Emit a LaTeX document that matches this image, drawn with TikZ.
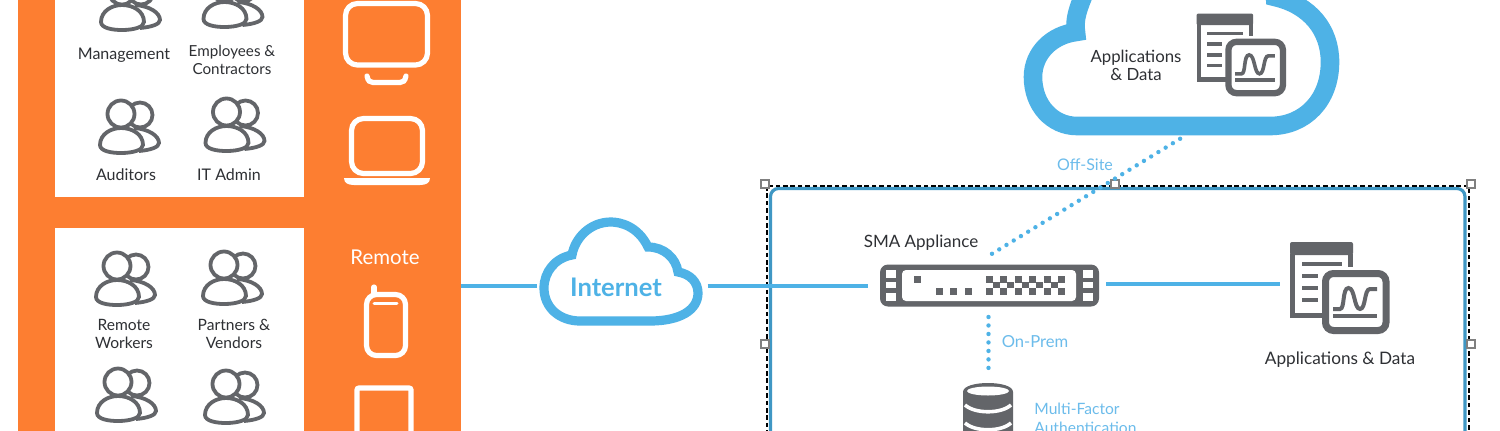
\documentclass[tikz,border=0pt]{standalone}
\usepackage{fontspec}
\setmainfont{Lato}
\definecolor{brandorange}{HTML}{FD7E31}
\definecolor{brandblue}{HTML}{4EB2E6}
\definecolor{softblue}{HTML}{6CBCEB}
\definecolor{frameblue}{HTML}{3F97C4}
\definecolor{icongray}{HTML}{636569}
\definecolor{labelgray}{HTML}{2E3034}
\tikzset{
  people/.pic={
    \draw[icongray,line width=1.9pt,fill=white] (13,14) .. controls (28,15) and (38,22) .. (38,29) .. controls (38,33) and (30,36) .. (18,37);
    \draw[icongray,line width=1.9pt,fill=white] (19,1) circle (12.5);
    \draw[icongray,line width=1.9pt,fill=white] (-21,31) .. controls (-21,20) and (-10,14) .. (0,14) .. controls (11,14) and (22,20) .. (22,31) .. controls (22,36) and (12,39) .. (0,39) .. controls (-10,39) and (-21,37) .. (-21,31) -- cycle;
    \draw[icongray,line width=1.9pt,fill=white] (0,0) circle (13.5);
  },
  pics/docs/.style={code={
    \begin{scope}[scale=#1]
      \fill[icongray,rounded corners=1pt] (0,0) rectangle (63,13);
      \draw[icongray,line width=#1*2.5pt] (2.5,12) -- (2.5,73.5) -- (35,73.5);
      \draw[icongray,line width=#1*2.5pt] (60.5,12) -- (60.5,25);
      \draw[icongray,line width=#1*1.8pt] (12,22) -- (52,22);
      \foreach \rowy in {34,46,58}{\draw[icongray,line width=#1*1.8pt] (12,\rowy) -- (28,\rowy);}
      \draw[icongray,fill=white,line width=#1*3.5pt,rounded corners=4pt] (35.5,31.5) rectangle (96,88.5);
      \draw[icongray,line width=#1*2pt] (43,67) -- (50,67) .. controls (55,67) and (52,46) .. (58.5,46) .. controls (65,46) and (64,67) .. (70,67) .. controls (76,67) and (74,47) .. (80,47) -- (87,47);
      \draw[icongray,line width=#1*2pt] (43,74) -- (87,74);
    \end{scope}
  }},
  label/.style={text=labelgray,font=\fontsize{8}{8.6}\selectfont,align=center,inner sep=0pt},
  whitelabel/.style={label,text=white,font=\fontsize{10.2}{11}\selectfont},
  bluelabel/.style={label,text=softblue},
  link/.style={brandblue,line width=2.4pt},
  dotlink/.style={brandblue,line width=2.2pt,line cap=round,dash pattern=on 0pt off 4.24pt},
  cloudline/.style={brandblue,line join=miter},
  device/.style={white,line width=2.6pt,rounded corners=3pt},
  handle/.style={draw=gray,fill=white,line width=.6pt,minimum size=4pt,inner sep=0pt},
  anchorbox/.style={inner sep=0pt,outer sep=0pt,minimum height=2pt}
}
\begin{document}
\begin{tikzpicture}[x=.5pt,y=-.5pt]
    \useasboundingbox (0,0) rectangle (1500,430);
    \clip (0,0) rectangle (1500,430);
    \fill[white] (0,0) rectangle (1500,430);
    \draw (239.5,190) node[fill=brandorange,minimum width=221.5pt,minimum height=270pt,inner sep=0pt,outer sep=0pt](panel){};
    \fill[white] (55,-20) rectangle (304,197);
    \fill[white] (55,228) rectangle (304,450);
    \draw (122,-9) pic{people};
    \draw (224.5,-12) pic{people};
    \draw (121,114) pic{people};
    \draw (226.5,112) pic{people};
    \draw (117,266) pic{people};
    \draw (224,265) pic{people};
    \draw (118,382) pic{people};
    \draw (226,384) pic{people};
    \draw (124,55) node[label](mgmt){Management};
    \draw (232,60) node[label,font=\fontsize{7.6}{8.6}\selectfont](staff){Employees \&\\Contractors};
    \draw (126,175) node[label](auditors){Auditors};
    \draw (229,175) node[label](itadmin){IT Admin};
    \draw (124,334) node[label,font=\fontsize{7.8}{8.6}\selectfont](remoteworkers){Remote\\Workers};
    \draw (234,334) node[label,font=\fontsize{7.8}{8.6}\selectfont](partners){Partners \&\\Vendors};
    \draw (385,257) node[whitelabel](remote){Remote};
    \draw[device,rounded corners=6pt] (345.5,3.5) rectangle (427.5,65);
    \draw[white,line width=2.6pt,line cap=round] (367,76) .. controls (368,81) and (370,82.5) .. (373,82.5) -- (400,82.5) .. controls (403,82.5) and (405,81) .. (406,76);
    \draw[device,rounded corners=6pt] (351.5,118.5) rectangle (422.5,173.5);
    \fill[white] (344,178) -- (430,178) .. controls (430,183) and (426,185) .. (420,185) -- (354,185) .. controls (348,185) and (344,183) .. (344,178) -- cycle;
    \draw[device,rounded corners=5pt] (366.5,294.5) rectangle (405.5,355.5);
    \draw[white,line width=2.6pt,line cap=round] (374,287) -- (374,294);
    \draw[white,line width=1.5pt,line cap=round] (374,303) -- (397,303);
    \draw[device,rounded corners=1pt] (357,388) rectangle (411,445);
    \draw[frameblue,line width=1.6pt,rounded corners=4pt] (770.5,188.5) rectangle (1465,460);
    \draw[black,line width=.8pt,dash pattern=on 2.3pt off 1.4pt] (767,186) rectangle (1469,460);
    \draw (765,184) node[handle](h1){};
    \draw (1115,184) node[handle](h2){};
    \draw (1471,184) node[handle](h3){};
    \draw (765,344) node[handle](h4){};
    \draw (1471,344) node[handle](h5){};
    \draw[cloudline,line width=4.6pt] (580,321) -- (650,321) .. controls (680,321) and (698,310) .. (698,293) .. controls (698,282) and (690,274) .. (678,272) .. controls (676,258) and (664,247) .. (648,247) .. controls (638,226) and (620,222) .. (611,222) .. controls (590,222) and (575,238) .. (572,255) .. controls (555,258) and (544,272) .. (544,288) .. controls (544,308) and (560,321) .. (580,321) -- cycle;
    \draw (622,286) node[anchorbox,minimum width=85.5pt](internet){};
    \draw (616,287) node[inner sep=0pt,text=brandblue,font=\fontsize{12.8}{13}\selectfont\bfseries](internettext){Internet};
    \draw[cloudline,line width=9.3pt] (1077,126) -- (1270,126) .. controls (1305,126) and (1330,100) .. (1330,62) .. controls (1330,30) and (1310,5) .. (1275,-3) -- (1272,-40) -- (1085,-40) -- (1085,-8) .. controls (1078,8) and (1074,20) .. (1076,32) .. controls (1052,35) and (1033,53) .. (1033,77) .. controls (1033,105) and (1052,126) .. (1077,126) -- cycle;
    \draw (1196.5,13.5) pic{docs=.9};
    \draw (1290,242) pic{docs=1};
    \draw (1136,65.5) node[label,font=\fontsize{8.4}{9}\selectfont](clouddata){Applications\\\& Data};
    \draw (1340,360) node[label,font=\fontsize{8.6}{9}\selectfont](appdata){Applications \& Data};
    \draw (921,243) node[label,font=\fontsize{8.5}{9}\selectfont](smatext){SMA Appliance};
    \draw (1085,165) node[bluelabel](offsite){Off-Site};
    \draw (1035,342) node[bluelabel,font=\fontsize{8.3}{9}\selectfont](onprem){On-Prem};
    \draw (1034,409) node[bluelabel,anchor=west,font=\fontsize{7.8}{8.6}\selectfont](mfa){Multi-Factor};
    \draw (1034,428) node[bluelabel,anchor=west,font=\fontsize{7.8}{8.6}\selectfont](mfb){Authentication};
    \draw (989.5,285.5) node[fill=icongray,rounded corners=4pt,minimum width=109.5pt,minimum height=21pt,inner sep=0pt,outer sep=0pt](sma){};
    \draw (987,286) node[anchorbox,minimum width=119pt](smalink){};
    \fill[white,rounded corners=2pt] (902,270) rectangle (1076,301);
    \foreach \earx in {886,1083}{
      \fill[white] (\earx,270) rectangle ++(10,8);
      \fill[white] (\earx,282) rectangle ++(10,6);
      \fill[white] (\earx,293) rectangle ++(10,8);
    }
    \fill[icongray] (914,276) rectangle ++(7,7);
    \foreach \ledx in {939,953.5,968}{\fill[icongray] (\ledx-3.5,288) rectangle ++(7,7);}
    \foreach \k in {0,...,5}{
      \fill[icongray] (989+14.5*\k-3.5,276) rectangle ++(7,7);
      \fill[icongray] (989+14.5*\k-3.5,288) rectangle ++(7,7);
    }
    \foreach \k in {0,...,4}{\fill[icongray] (996+14.5*\k-3.5,282) rectangle ++(7,6);}
    \fill[icongray] (963,392) .. controls (963,386) and (975,383) .. (988,383) .. controls (1001,383) and (1013,386) .. (1013,392) -- (1013,450) -- (963,450) -- cycle;
    \fill[white] (988,391) ellipse (21 and 4.5);
    \draw[white,line width=1.8pt] (965,405) .. controls (975,414) and (1001,414) .. (1011,405);
    \draw[white,line width=1.8pt] (965,423) .. controls (975,432) and (1001,432) .. (1011,423);
    \draw (1340,284) node[anchorbox,minimum width=60pt](apps){};
    \draw (1183,137) node[anchorbox,minimum width=2pt](cloudfoot){};
    \draw (990,255) node[anchorbox,minimum width=2pt](smatop){};
    \draw (988.5,315) node[anchorbox,minimum width=2pt](smabottom){};
    \draw (988.5,375) node[anchorbox,minimum width=2pt](dbtop){};
    \draw[link](panel.east |- internet.west) -- (internet.west);
    \draw[link](internet.east) -- (internet.east -| smalink.west);
    \draw[link](smalink.east |- apps.west) -- (apps.west);
    \draw[dotlink](smatop) -- (cloudfoot);
    \draw[dotlink](smabottom) -- (dbtop);
\end{tikzpicture}
\end{document}
